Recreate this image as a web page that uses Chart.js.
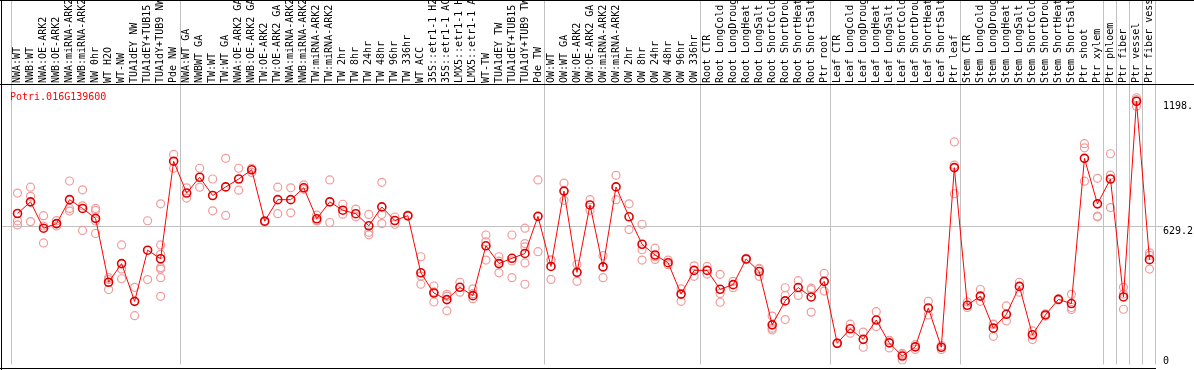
<!DOCTYPE html>
<html lang="en">
<head>
  <meta charset="UTF-8">
  <title>Potri.016G139600</title>
  <style>
    body {
      margin: 0;
      background-color: white;
    }
    #wrap {
      width: 1194px;
      height: 370px;
    }
  </style>
</head>
<body>
  <div id="wrap"><canvas id="chart" width="1194" height="370"></canvas></div>

  <script src="https://cdn.jsdelivr.net/npm/chart.js"></script>
  <script>
    const geneName = "Potri.016G139600";

    const categories = [
      "NWA:WT", "NWB:WT", "NWA:OE-ARK2", "NWB:OE-ARK2", "NWA:miRNA-ARK2", "NWB:miRNA-ARK2",
      "NW 0hr", "WT H2O", "WT-NW", "TUA1dEY NW", "TUA1dEY+TUB15 NW", "TUA1dY+TUB9 NW", "Pde NW",
      "NWA:WT GA", "NWBWT GA", "TW:WT", "TW:WT GA", "NWA:OE-ARK2 GA", "NWB:OE-ARK2 GA",
      "TW:OE-ARK2", "TW:OE-ARK2 GA", "NWA:miRNA-ARK2", "NWB:miRNA-ARK2", "TW:miRNA-ARK2", "TW:miRNA-ARK2",
      "TW 2hr", "TW 8hr", "TW 24hr", "TW 48hr", "TW 96hr", "TW 336hr", "WT ACC",
      "35S::etr1-1 H2O", "35S::etr1-1 ACC", "LMX5::etr1-1 H2O", "LMX5::etr1-1 ACC",
      "WT-TW", "TUA1dEY TW", "TUA1dEY+TUB15 TW", "TUA1dY+TUB9 TW", "Pde TW",
      "OW:WT", "OW:WT GA", "OW:OE-ARK2", "OW:OE-ARK2 GA", "OW:miRNA-ARK2", "OW:miRNA-ARK2",
      "OW 2hr", "OW 8hr", "OW 24hr", "OW 48hr", "OW 96hr", "OW 336hr",
      "Root CTR", "Root LongCold", "Root LongDrought", "Root LongHeat", "Root LongSalt",
      "Root ShortCold", "Root ShortDrought", "Root ShortHeat", "Root ShortSalt", "Ptr root",
      "Leaf CTR", "Leaf LongCold", "Leaf LongDrought", "Leaf LongHeat", "Leaf LongSalt",
      "Leaf ShortCold", "Leaf ShortDrought", "Leaf ShortHeat", "Leaf ShortSalt", "Ptr leaf",
      "Stem CTR", "Stem LongCold", "Stem LongDrought", "Stem LongHeat", "Stem LongSalt",
      "Stem ShortCold", "Stem ShortDrought", "Stem ShortHeat", "Stem ShortSalt", "Ptr shoot", "Ptr xylem",
      "Ptr phloem", "Ptr fiber", "Ptr vessel", "Ptr fiber vessel"
    ];

    // index where each sample group starts (plus the end)
    const groupEdges = [0, 13, 41, 53, 63, 73, 84, 85, 86, 87, 88];

    // mean expression per sample
    const means = [
      687, 740, 620, 641, 750, 710, 665, 374, 459, 287, 520, 481, 925,
      780, 852, 769, 808, 844, 886, 652, 750, 750, 804, 663, 740, 702, 686, 631, 717,
      655, 677, 417, 325, 295, 351, 313, 540, 459, 483, 505, 674,
      446, 789, 419, 726, 444, 808, 672, 547, 498, 463, 320, 428,
      428, 342, 363, 480, 423, 180, 289, 350, 307, 378,
      96, 162, 114, 202, 98, 38, 80, 257, 78, 896,
      269, 311, 165, 228, 355, 135, 225, 296, 277, 938, 731,
      844, 307, 1198, 477
    ];

    // replicate values per sample
    const replicates = [
      [780, 653, 635], [807, 765, 650], [677, 553, 630], [655, 630, 640], [835, 710, 698],
      [795, 722, 610], [701, 653, 596, 710], [386, 341, 395], [544, 434, 390], [351, 222],
      [654, 386], [731, 544, 501, 441, 434, 395, 310], [956, 893],
      [804, 757], [893, 807], [844, 699], [938, 678], [893, 793], [893, 874], [655, 648],
      [807, 686], [804, 690], [817, 797], [680, 653, 655], [840, 646], [729, 684], [707, 672],
      [683, 602, 590], [829, 683, 641], [671, 638], [680, 675], [490, 402, 365], [357, 284, 330],
      [319, 244, 310], [374, 329], [344, 299, 322], [589, 558, 475], [490, 417, 470],
      [589, 471, 395], [620, 550, 535, 462, 365], [840, 513],
      [475, 387, 476], [825, 747], [456, 378], [750, 702], [495, 395], [861, 750], [731, 614],
      [638, 522, 475], [529, 478, 490], [475, 454], [344, 287], [449, 401],
      [446, 411], [410, 323, 283], [349, 378], [483, 477], [437, 401, 434], [220, 157, 165],
      [349, 314, 204], [381, 314], [347, 340, 238], [414, 334],
      [98, 94], [183, 142], [147, 78], [240, 172], [75, 110, 108], [45, 20, 50], [90, 68],
      [287, 225], [68, 86], [1013, 777, 907],
      [284, 259], [341, 287], [184, 128, 182], [266, 198], [374, 329], [153, 113], [230, 220],
      [298, 294], [319, 259, 250], [1005, 986, 834], [847, 672, 675],
      [959, 862, 714], [351, 251, 320], [1214, 1205, 1175], [508, 496, 434]
    ];

    const yTickValues = [0, 629.2, 1198];
    const yTickLabels = ["0", "629.2", "1198."];

    const monoFont = { family: "'DejaVu Sans Mono', monospace", size: 10 };
    const gridGrey = "#c0c0c0";

    // replicate points use the category index directly (labels repeat, so no parsing)
    const repPoints = [];
    replicates.forEach((vals, i) => {
      vals.forEach(v => repPoints.push({ x: i, y: v }));
    });

    const framePlugin = {
      id: "frame",
      beforeDatasetsDraw(chart) {
        const { ctx, chartArea, scales } = chart;
        const yy = Math.round(scales.y.getPixelForValue(yTickValues[1])) + 0.5;
        ctx.save();
        ctx.strokeStyle = gridGrey;
        ctx.lineWidth = 1;
        ctx.beginPath();
        ctx.moveTo(1, yy);
        ctx.lineTo(chartArea.left, yy);
        ctx.stroke();
        ctx.restore();
      },
      afterDraw(chart) {
        const { ctx, chartArea, width, height } = chart;
        ctx.save();
        ctx.strokeStyle = "#000";
        ctx.lineWidth = 1;
        ctx.beginPath();
        ctx.moveTo(0, 0.5); ctx.lineTo(width, 0.5);
        ctx.moveTo(0, chartArea.top - 0.5); ctx.lineTo(width, chartArea.top - 0.5);
        ctx.moveTo(1.5, 0); ctx.lineTo(1.5, height);
        ctx.moveTo(0, height - 1.5); ctx.lineTo(chartArea.right, height - 1.5);
        ctx.stroke();

        ctx.fillStyle = "#ff0000";
        ctx.font = "10px 'DejaVu Sans Mono', monospace";
        ctx.textBaseline = "middle";
        ctx.textAlign = "left";
        ctx.fillText(geneName, 10, chartArea.top + 12);
        ctx.restore();
      }
    };

    const ctx = document.getElementById("chart").getContext("2d");
    const chart = new Chart(ctx, {
      type: "line",
      data: {
        labels: categories,
        datasets: [
          {
            label: "mean",
            data: means,
            borderColor: "#ff0000",
            borderWidth: 1,
            tension: 0,
            pointRadius: 4,
            pointBorderWidth: 1.6,
            pointBorderColor: "#e00000",
            pointBackgroundColor: "rgba(0,0,0,0)",
            order: 0
          },
          {
            label: "replicates",
            data: repPoints,
            parsing: false,
            showLine: false,
            pointRadius: 4,
            pointBorderWidth: 1.2,
            pointBorderColor: "#f29a9a",
            pointBackgroundColor: "rgba(0,0,0,0)",
            order: 1
          }
        ]
      },
      options: {
        responsive: false,
        animation: false,
        devicePixelRatio: 1,
        layout: { padding: { left: 11, right: 0, top: 0, bottom: 1 } },
        plugins: {
          legend: { display: false },
          tooltip: { enabled: false }
        },
        scales: {
          x: {
            type: "category",
            position: "top",
            offset: true,
            grid: {
              offset: true,
              drawOnChartArea: true,
              tickLength: 85,
              lineWidth: 1,
              color: (c) => {
                const idx = c.index === undefined ? categories.length : c.index;
                return groupEdges.includes(idx) ? gridGrey : "rgba(0,0,0,0)";
              }
            },
            border: { display: false },
            ticks: {
              autoSkip: false,
              minRotation: 90,
              maxRotation: 90,
              padding: -83,
              labelOffset: 12,
              color: "#000",
              font: monoFont
            },
            afterFit: (s) => {
              s.height = 85;
              s.paddingLeft = 0;
              s.paddingRight = 0;
            }
          },
          y: {
            position: "right",
            min: 0,
            max: 1272,
            afterBuildTicks: (s) => { s.ticks = yTickValues.map(v => ({ value: v })); },
            grid: {
              tickLength: 7,
              color: (c) => (c.tick && c.tick.value === yTickValues[1]) ? gridGrey : "rgba(0,0,0,0)"
            },
            border: { display: false },
            ticks: {
              padding: 0,
              labelOffset: 5,
              color: "#000",
              font: { family: "'DejaVu Sans Mono', monospace", size: 10, lineHeight: 0.8 },
              callback: (value, index) => index === 0 ? [yTickLabels[0], "", ""] : yTickLabels[index]
            },
            afterFit: (s) => {
              s.width = 38;
              s.paddingTop = 0;
              s.paddingBottom = 0;
            }
          }
        }
      },
      plugins: [framePlugin]
    });
  </script>
</body>
</html>
